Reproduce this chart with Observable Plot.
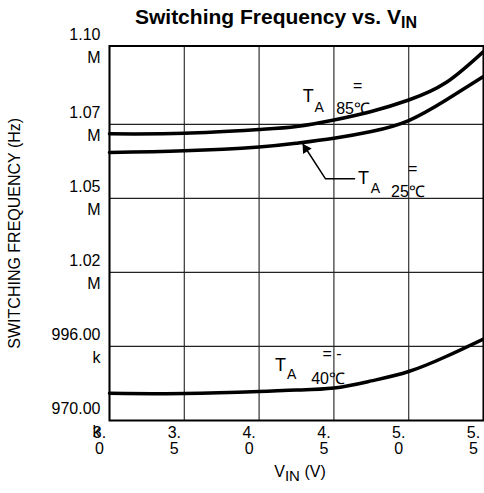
<!DOCTYPE html>
<html><head><meta charset="utf-8">
<script src="https://cdn.jsdelivr.net/npm/d3@7"></script>
<script src="https://cdn.jsdelivr.net/npm/@observablehq/plot@0.6"></script>
<style>
body{margin:0;background:#fff;font-family:"Liberation Sans",Arial,sans-serif;}
#title{height:30px;box-sizing:border-box;padding-left:68px;padding-top:2px;text-align:center;font-weight:bold;font-size:21px;line-height:30px;white-space:nowrap;overflow:visible;color:#000;}
#title span{font-size:16px;position:relative;top:4px;}
</style></head><body>
<div id="title">Switching Frequency vs. V<span>IN</span></div>
<div id="chart"></div>
<script>
// Data (V_IN in volts, frequency in Hz)
const vin = [3.0, 3.5, 4.0, 4.25, 4.5, 4.75, 5.0, 5.25, 5.5];
const freq85 = [1070660, 1070840, 1072170, 1073220, 1075510, 1078490, 1082530, 1088670, 1099560];
const freq25 = [1064095, 1064690, 1066060, 1067360, 1069120, 1071470, 1075330, 1082530, 1090780];
const freqM40 = [979585, 979450, 980180, 980700, 981400, 983900, 987200, 992470, 998615];
const seriesNames = ["85℃", "25℃", "-40℃"];

const xTicks = [3.0, 3.5, 4.0, 4.5, 5.0, 5.5];
const xTickLabels = ["3.\n0", "3.\n5", "4.\n0", "4.\n5", "5.\n0", "5.\n5"];
const yTicks = [970000, 996000, 1022000, 1048000, 1074000, 1101500];
const yTickLabels = ["970.00\nk", "996.00\nk", "1.02\nM", "1.05\nM", "1.07\nM", "1.10\nM"];

// Annotation anchors (data units)
const annT = [{x: 4.328, y: 1081755}, {x: 4.698, y: 1053211}, {x: 4.143, y: 987555}];
const annA = [{x: 4.402, y: 1078244}, {x: 4.778, y: 1050051}, {x: 4.217, y: 984746}];
const annEq = [{x: 4.659, y: 1087373, t: "="}, {x: 5.027, y: 1058477, t: "="}, {x: 4.487, y: 993524, t: "= -"}];
const annTemp = [{x: 4.628, y: 1077682, t: "85℃"}, {x: 4.995, y: 1048646, t: "25℃"}, {x: 4.461, y: 982885, t: "40℃"}];
const pointerPath = [{x: 4.295, y: 1066904}, {x: 4.444, y: 1054861}, {x: 4.638, y: 1054861}];
const pointerHead = [{x: 4.312, y: 1065429}];

const rows = [];
[freq85, freq25, freqM40].forEach((arr, s) => arr.forEach((f, i) => rows.push({series: seriesNames[s], v: vin[i], f})));

const fig = Plot.plot({
  width: 484, height: 463,
  marginTop: 15.5, marginBottom: 73, marginLeft: 109, marginRight: 1,
  style: {fontFamily: "'Liberation Sans', Arial, sans-serif", color: "#000", background: "#fff", overflow: "visible"},
  x: {domain: [3.0, 5.5]},
  y: {domain: [970000, 1101500]},
  marks: [
    Plot.ruleX(xTicks, {stroke: "#333", strokeWidth: 1.2}),
    Plot.ruleY(yTicks, {stroke: "#222", strokeWidth: 1.2}),
    Plot.line(rows, {x: "v", y: "f", z: "series", stroke: "#000", strokeWidth: 3.5, curve: "natural"}),
    Plot.frame({stroke: "#000", strokeWidth: 2}),
    Plot.axisX({ticks: xTicks, tickFormat: d => xTickLabels[xTicks.indexOf(d)], tickSize: 0, tickPadding: 6, fontSize: 16, lineHeight: 1, dx: -10, label: null}),
    Plot.axisY({ticks: yTicks, tickFormat: d => yTickLabels[yTicks.indexOf(d)], tickSize: 0, tickPadding: 9, fontSize: 16, lineHeight: 1.43, dy: -2, label: null}),
    Plot.text(["SWITCHING FREQUENCY (Hz)"], {frameAnchor: "left", rotate: -90, dx: -95, textAnchor: "middle", lineAnchor: "middle", fontSize: 16, fill: "#000"}),
    Plot.line(pointerPath, {x: "x", y: "y", stroke: "#000", strokeWidth: 1.5}),
    Plot.dot(pointerHead, {x: "x", y: "y", symbol: "triangle", r: 3.8, fill: "#000", stroke: "none", rotate: -33}),
    Plot.text(annT, {x: "x", y: "y", text: () => "T", fontSize: 18, lineAnchor: "bottom", textAnchor: "middle", fill: "#000"}),
    Plot.text(annA, {x: "x", y: "y", text: () => "A", fontSize: 14, lineAnchor: "bottom", textAnchor: "middle", fill: "#000"}),
    Plot.text(annEq, {x: "x", y: "y", text: "t", fontSize: 16, lineAnchor: "middle", textAnchor: "middle", fill: "#000"}),
    Plot.text(annTemp, {x: "x", y: "y", text: "t", fontSize: 16, lineAnchor: "bottom", textAnchor: "middle", fill: "#000"})
  ]
});
document.getElementById("chart").appendChild(fig);

// x-axis label with subscript
const svg = d3.select(fig);
const xs = fig.scale("x");
const xl = svg.append("text")
  .attr("x", (xs.range[0] + xs.range[1]) / 2 + 4)
  .attr("y", 447)
  .attr("text-anchor", "middle")
  .attr("font-size", 16)
  .attr("fill", "#000");
xl.append("tspan").text("V");
xl.append("tspan").attr("dy", 4).attr("font-size", 15).text("IN");
xl.append("tspan").attr("dy", -4).text(" (V)");
</script>
</body></html>
